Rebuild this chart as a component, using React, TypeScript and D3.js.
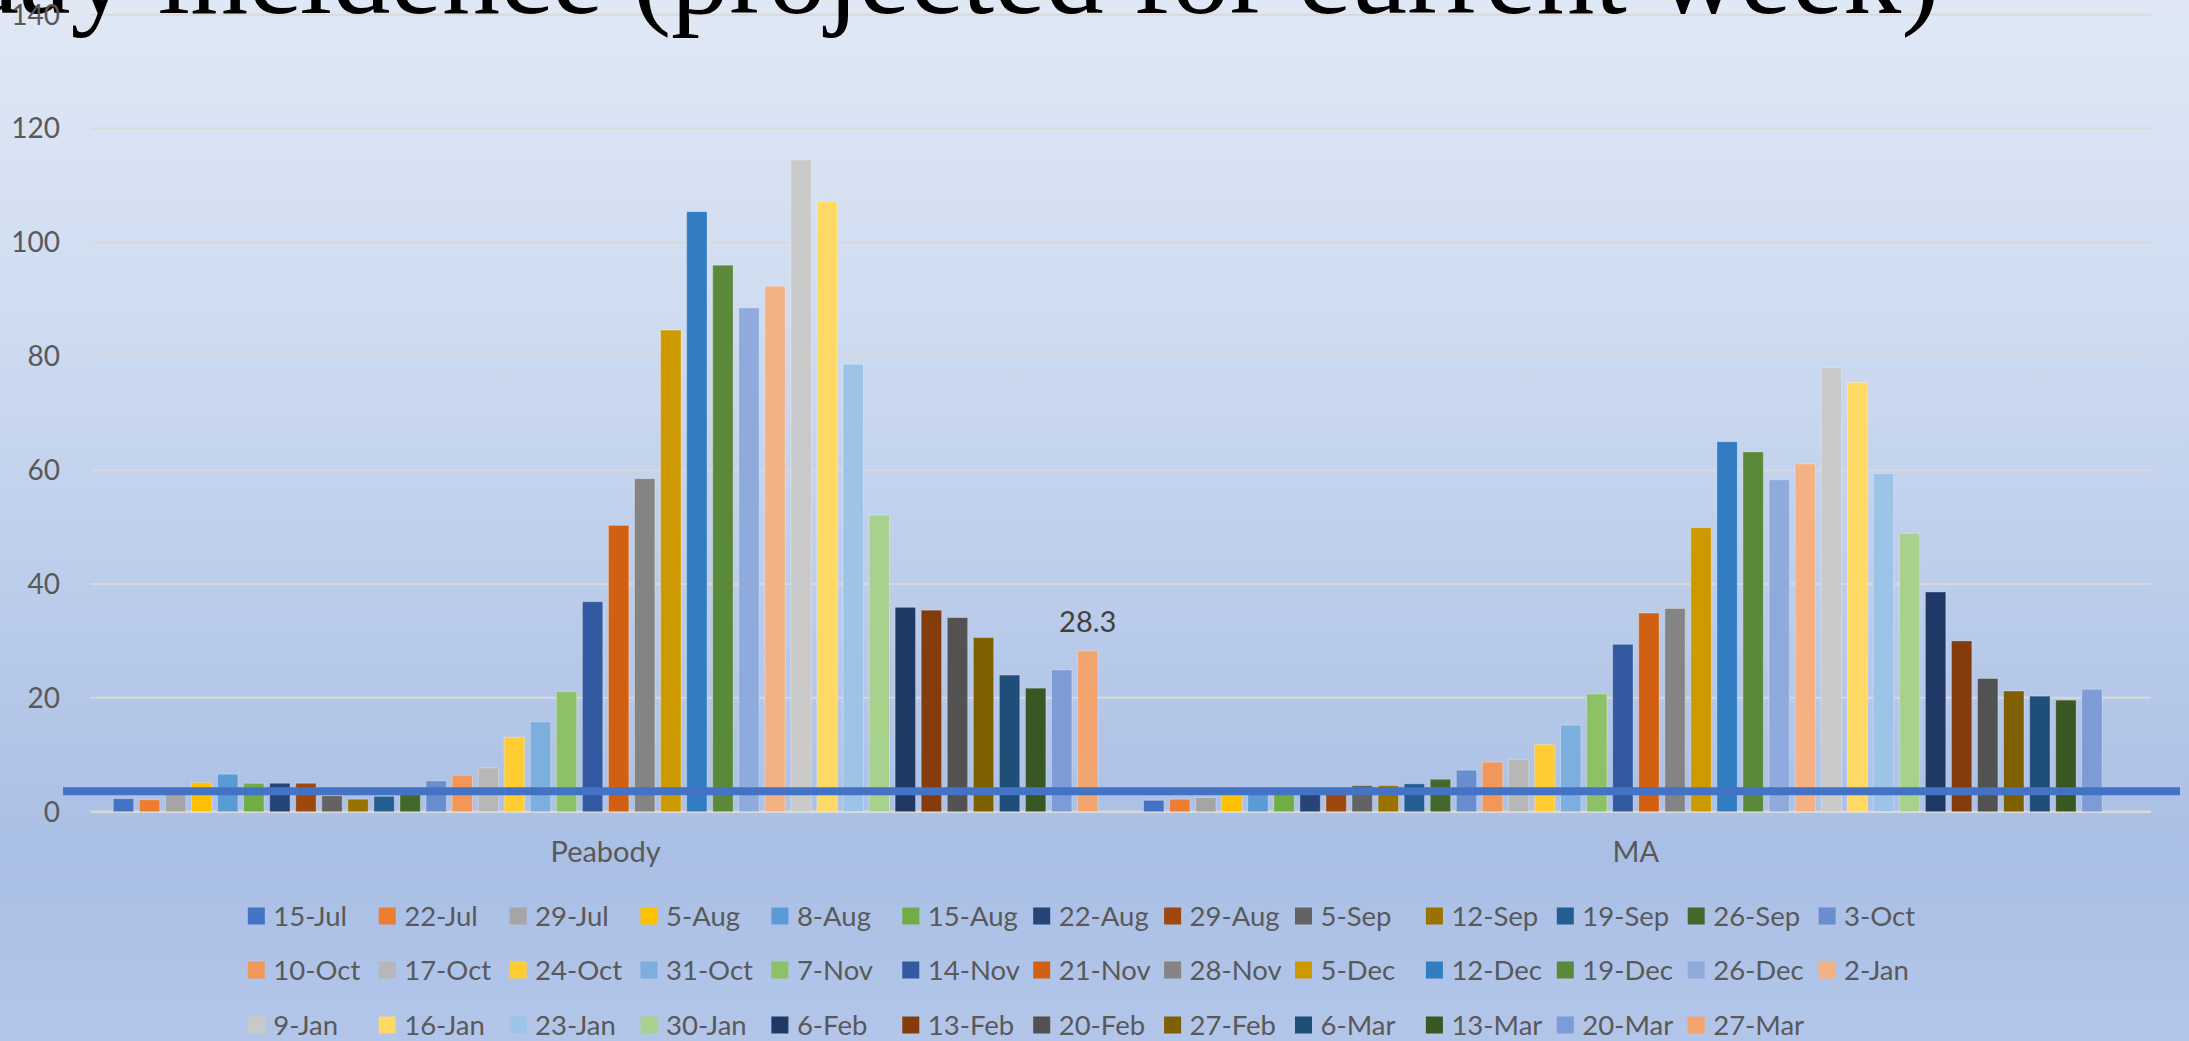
import React from "react";
import * as d3 from "d3";

const categories = ["Peabody", "MA"];

const weeks = [
  "15-Jul", "22-Jul", "29-Jul", "5-Aug", "8-Aug", "15-Aug", "22-Aug", "29-Aug", "5-Sep", "12-Sep",
  "19-Sep", "26-Sep", "3-Oct", "10-Oct", "17-Oct", "24-Oct", "31-Oct", "7-Nov", "14-Nov", "21-Nov",
  "28-Nov", "5-Dec", "12-Dec", "19-Dec", "26-Dec", "2-Jan", "9-Jan", "16-Jan", "23-Jan", "30-Jan",
  "6-Feb", "13-Feb", "20-Feb", "27-Feb", "6-Mar", "13-Mar", "20-Mar", "27-Mar",
];

const peabodyValues = [
  2.3, 2.1, 3.3, 5.1, 6.6, 5.0, 5.0, 5.0, 2.8, 2.2,
  2.7, 3.0, 5.4, 6.4, 7.7, 13.1, 15.8, 21.1, 36.9, 50.3,
  58.5, 84.6, 105.4, 96.0, 88.5, 92.3, 114.5, 107.2, 78.6, 52.1,
  35.9, 35.4, 34.1, 30.6, 24.0, 21.7, 24.9, 28.3,
];

const maValues: (number | null)[] = [
  2.0, 2.2, 2.5, 3.0, 3.2, 3.3, 3.5, 3.6, 4.6, 4.6,
  4.9, 5.7, 7.3, 8.7, 9.2, 11.8, 15.2, 20.7, 29.4, 34.9,
  35.7, 49.9, 65.0, 63.2, 58.3, 61.1, 78.0, 75.4, 59.4, 48.9,
  38.6, 30.0, 23.4, 21.2, 20.3, 19.6, 21.5, null,
];

const seriesColors = [
  "#4472C4", "#ED7D31", "#A5A5A5", "#FFC000", "#5B9BD5", "#70AD47", "#264478", "#9E480E", "#636363", "#997300",
  "#255E91", "#43682B", "#698ED0", "#F1975A", "#B7B7B7", "#FFCD33", "#7CAFDD", "#8CC168", "#335AA1", "#D26012",
  "#848484", "#CC9A00", "#327DC2", "#5A8A39", "#8FAADC", "#F4B183", "#C9C9C9", "#FFD966", "#9DC3E6", "#A9D18E",
  "#203864", "#843C0C", "#525252", "#7F6000", "#1F4E79", "#385723", "#7D9BD6", "#F3A56F",
];

const yTicks = [0, 20, 40, 60, 80, 100, 120, 140];
const thresholdValue = 3.6;
const labelledValue = { category: "Peabody", week: "27-Mar", text: "28.3" };
const titleText = "7-day incidence (projected for current week)";

const W = 2189;
const H = 1041;
const FONT = "Lato, 'Open Sans', sans-serif";

export default function App() {
  const seriesByCat: Record<string, (number | null)[]> = {
    Peabody: peabodyValues,
    MA: maValues,
  };

  const x0 = d3.scaleBand<string>().domain(categories).range([90.5, 2151]).paddingInner(0).paddingOuter(0);
  const x1 = d3
    .scaleBand<string>()
    .domain(weeks)
    .range([0, x0.bandwidth()])
    .paddingInner(0.217)
    .paddingOuter(0.874);
  const y = d3.scaleLinear().domain([0, 140]).range([811.7, 14.7]);
  const color = d3.scaleOrdinal<string, string>().domain(weeks).range(seriesColors);

  const legendCols = 13;
  const legendX0 = 247.8;
  const legendStep = 130.9;
  const legendRowsY = [916, 970, 1025];

  const lblX = (x0(labelledValue.category) ?? 0) + (x1(labelledValue.week) ?? 0) + x1.bandwidth() / 2;
  const lblIdx = weeks.indexOf(labelledValue.week);
  const lblY = y(seriesByCat[labelledValue.category][lblIdx] as number) - 19;

  return (
    <svg
      width={W}
      height={H}
      style={{ position: "absolute", left: 0, top: 0, overflow: "hidden" }}
      xmlns="http://www.w3.org/2000/svg"
    >
      <defs>
        <linearGradient id="bg" x1="0" y1="0" x2="0" y2="1">
          <stop offset="0" stopColor="#E0E8F5" />
          <stop offset="0.3" stopColor="#CFDCF1" />
          <stop offset="0.82" stopColor="#AABFE5" />
          <stop offset="1" stopColor="#B3C6EA" />
        </linearGradient>
      </defs>
      <rect x={0} y={0} width={W} height={H} fill="url(#bg)" />

      {/* gridlines */}
      {yTicks.map((t) => (
        <line
          key={t}
          x1={90.5}
          x2={2151}
          y1={y(t)}
          y2={y(t)}
          stroke="#D9D9D9"
          strokeWidth={t === 0 ? 2.5 : 2}
        />
      ))}

      {/* title (cropped at top) */}
      <text
        x={1940}
        y={13}
        textAnchor="end"
        fontFamily="'Liberation Serif', 'Times New Roman', serif"
        fontSize={116.3}
        fill="#000000"
      >
        {titleText}
      </text>

      {/* bars */}
      {categories.map((cat) => (
        <g key={cat} transform={`translate(${x0(cat)},0)`}>
          {weeks.map((w, i) => {
            const v = seriesByCat[cat][i];
            if (v == null) return null;
            return (
              <rect
                key={w}
                x={x1(w)}
                y={y(v)}
                width={x1.bandwidth()}
                height={y(0) - y(v)}
                fill={color(w)}
                stroke="#FFFFFF"
                strokeOpacity={0.3}
                strokeWidth={1}
              />
            );
          })}
        </g>
      ))}

      {/* threshold line */}
      <line
        x1={63}
        x2={2180}
        y1={y(thresholdValue)}
        y2={y(thresholdValue)}
        stroke="#4472C4"
        strokeWidth={8}
      />

      {/* data label */}
      <text x={lblX} y={lblY} textAnchor="middle" fontFamily={FONT} fontSize={29} fill="#404040">
        {labelledValue.text}
      </text>

      {/* y tick labels */}
      {yTicks.map((t) => (
        <text
          key={t}
          x={60}
          y={y(t)}
          dy="0.35em"
          textAnchor="end"
          fontFamily={FONT}
          fontSize={28}
          fill="#595959"
        >
          {t}
        </text>
      ))}

      {/* category labels */}
      {categories.map((cat) => (
        <text
          key={cat}
          x={(x0(cat) ?? 0) + x0.bandwidth() / 2}
          y={862}
          textAnchor="middle"
          fontFamily={FONT}
          fontSize={29}
          fill="#595959"
        >
          {cat}
        </text>
      ))}

      {/* legend */}
      {weeks.map((w, i) => {
        const col = i % legendCols;
        const row = Math.floor(i / legendCols);
        const lx = legendX0 + col * legendStep;
        const cy = legendRowsY[row];
        return (
          <g key={w}>
            <rect x={lx} y={cy - 8.5} width={17} height={17} fill={color(w)} />
            <text x={lx + 25.5} y={cy} dy="0.36em" fontFamily={FONT} fontSize={27.5} fill="#595959">
              {w}
            </text>
          </g>
        );
      })}
    </svg>
  );
}
